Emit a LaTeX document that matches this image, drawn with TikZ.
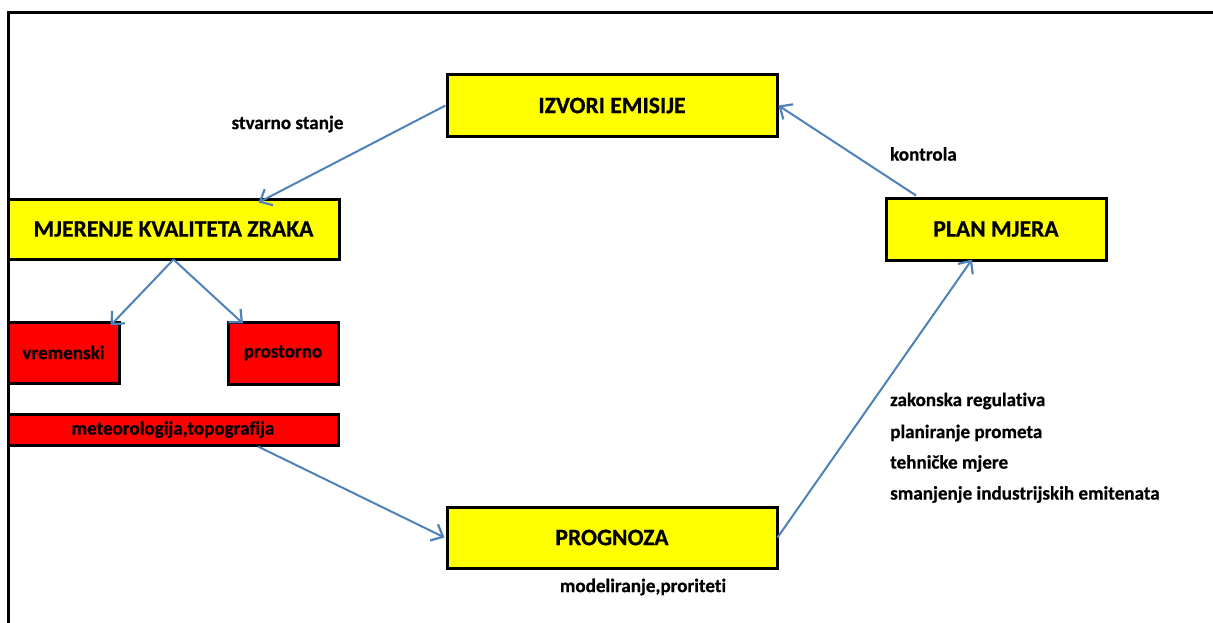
\documentclass[tikz,border=0pt]{standalone}
\usepackage{fontspec}
\setmainfont[Ligatures=NoCommon, BoldFeatures={FakeBold=0.6}]{Carlito}
\usetikzlibrary{arrows.meta}
\definecolor{arrblue}{RGB}{79,129,189}
\definecolor{boxyellow}{RGB}{255,255,0}
\definecolor{boxred}{RGB}{255,0,0}
\tikzset{
  ybox/.style={draw=black, line width=3pt, fill=boxyellow, inner sep=0pt, font=\fontsize{23.6}{26}\selectfont\bfseries},
  rbox/.style={draw=black, line width=3pt, fill=boxred, inner sep=0pt, font=\fontsize{19.1}{22}\selectfont\bfseries},
  lbl/.style={inner sep=0pt, font=\fontsize{19.1}{22}\selectfont\bfseries},
  conn/.style={draw=arrblue, line width=2pt, -{Straight Barb[length=10pt,width=18pt,line width=2.2pt]}},
  frameline/.style={draw=black, line width=3pt}
}
\begin{document}
\begin{tikzpicture}[x=1pt,y=-1pt]
\useasboundingbox (0,0) rectangle (1213,623);
\fill[white] (0,0) rectangle (1213,623);
\coordinate (fa) at (8.5,623);
\coordinate (fb) at (8.5,13);
\coordinate (fc) at (1213,13);
\draw[frameline] (fa) -- (fb) -- (fc);

\node[ybox, minimum width=330pt, minimum height=62pt] (izv) at (612,105.5) {IZVORI EMISIJE};
\node[ybox, minimum width=331pt, minimum height=60pt] (mje) at (173.5,229) {MJERENJE KVALITETA ZRAKA};
\node[ybox, minimum width=220pt, minimum height=62pt] (plan) at (996,229) {PLAN MJERA};
\node[ybox, minimum width=330pt, minimum height=61pt] (prog) at (612,537.5) {PROGNOZA};

\node[rbox, minimum width=111pt, minimum height=61pt] (vre) at (63.5,352.5) {vremenski};
\node[rbox, minimum width=110pt, minimum height=62pt] (pro) at (283,353) {prostorno};
\node[rbox, minimum width=330pt, minimum height=31pt] (met) at (173,429.5) {meteorologija,topografija};

\node[lbl] (stv) at (287.5,124) {stvarno stanje};
\node[lbl, anchor=west] (kon) at (890,154) {kontrola};
\node[lbl] (mod) at (643,587) {modeliranje,proriteti};
\node[lbl, anchor=west] (z1) at (890,401) {zakonska regulativa};
\node[lbl, anchor=west] (z2) at (890,433) {planiranje prometa};
\node[lbl, anchor=west] (z3) at (890,463.5) {tehničke mjere};
\node[lbl, anchor=west] (z4) at (890,494.5) {smanjenje industrijskih emitenata};

\draw[conn] (izv.west) -- ([xshift=85pt,yshift=-5pt]mje.north);
\draw[conn] ([xshift=-80pt,yshift=1pt]plan.north) -- (izv.east);
\draw[conn] ([yshift=1pt]mje.south) -- ([xshift=47pt,yshift=-5pt]vre.north);
\draw[conn] ([yshift=1pt]mje.south) -- ([xshift=-40pt,yshift=-3pt]pro.north);
\draw[conn] ([xshift=85pt]met.south) -- ([xshift=-1pt]prog.west);
\draw[conn] ([xshift=-1pt]prog.east) -- ([xshift=-24pt,yshift=2pt]plan.south);
\end{tikzpicture}
\end{document}
